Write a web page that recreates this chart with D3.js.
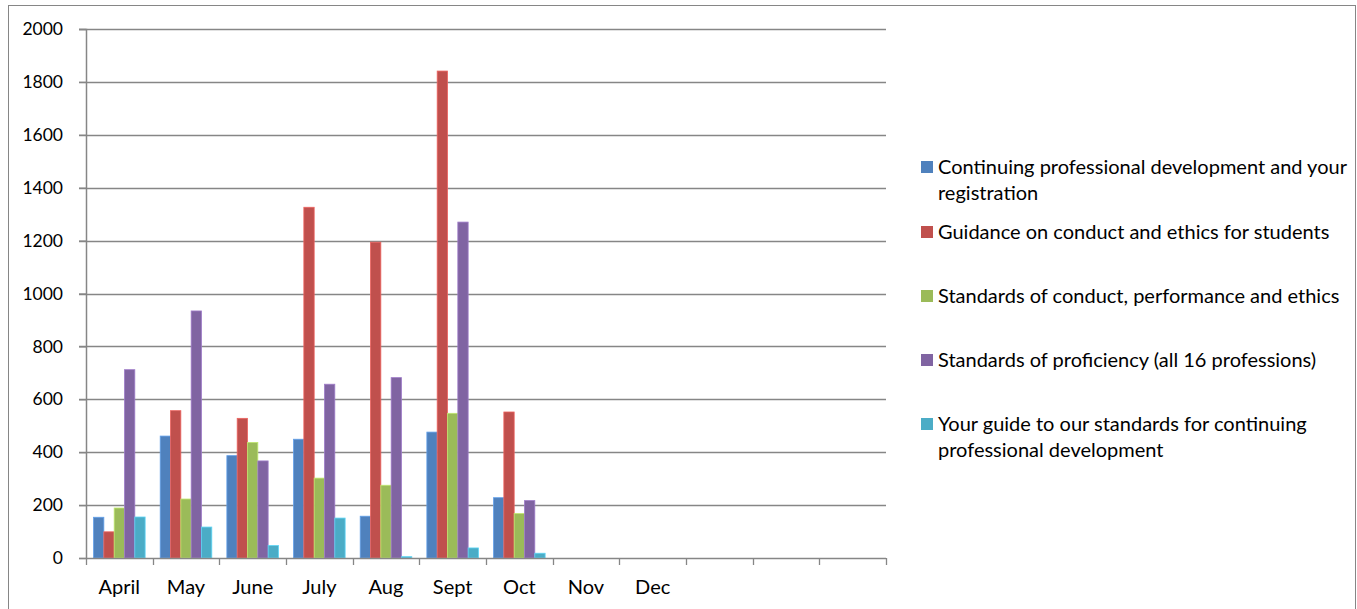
<!DOCTYPE html>
<html><head><meta charset="utf-8">
<script src="https://cdn.jsdelivr.net/npm/d3@7"></script>
<style>body{margin:0;background:#fff;} svg{display:block;font-family:Lato,"Open Sans",sans-serif;}</style>
</head><body>
<svg id="c" width="1357" height="609"></svg>
<script>
const months = ["April","May","June","July","Aug","Sept","Oct","Nov","Dec","","",""];
const seriesNames = [
  "Continuing professional development and your registration",
  "Guidance on conduct and ethics for students",
  "Standards of conduct, performance and ethics",
  "Standards of proficiency (all 16 professions)",
  "Your guide to our standards for continuing professional development"
];
const legendLines = [
  ["Continuing professional development and your","registration"],
  ["Guidance on conduct and ethics for students"],
  ["Standards of conduct, performance and ethics"],
  ["Standards of proficiency (all 16 professions)"],
  ["Your guide to our standards for continuing","professional development"]
];
const colors = ["#4F81BD","#C0504D","#9BBB59","#8064A2","#4BACC6"];
const cpdRegistration = [154,461,387,449,158,476,228,null,null,null,null,null];
const guidanceStudents = [99,557,528,1326,1194,1841,552,null,null,null,null,null];
const standardsConduct = [189,223,437,302,275,547,168,null,null,null,null,null];
const standardsProficiency = [712,934,367,657,682,1270,217,null,null,null,null,null];
const guideCpd = [155,117,47,151,5,38,18,null,null,null,null,null];
const yTicks = [0,200,400,600,800,1000,1200,1400,1600,1800,2000];
const allSeries = [cpdRegistration,guidanceStudents,standardsConduct,standardsProficiency,guideCpd];

const svg = d3.select("#c");
const L = 86, R = 886, T = 29, B = 558;
const slots = months.map((m,i)=>"s"+i);
const x0 = d3.scaleBand().domain(slots).range([L,R]).padding(0);
const bw = x0.bandwidth();
const x1 = d3.scaleBand().domain(d3.range(5)).range([bw*0.113, bw*0.887]).padding(0);
const y = d3.scaleLinear().domain([0,2000]).range([B,T]);

// outer border
svg.append("rect").attr("x",8.5).attr("y",5.5).attr("width",1347).attr("height",610)
  .attr("fill","none").attr("stroke","#868686").attr("stroke-width",1);

// gridlines
svg.append("g").selectAll("line").data(yTicks.filter(d=>d>0)).join("line")
  .attr("x1",L-7).attr("x2",R).attr("y1",d=>Math.round(y(d))+0.5).attr("y2",d=>Math.round(y(d))+0.5)
  .attr("stroke","#868686").attr("stroke-width",1.3);

// y axis
const yAxis = d3.axisLeft(y).tickValues(yTicks).tickSize(7).tickPadding(16).tickFormat(d3.format("d"));
const gy = svg.append("g").attr("transform",`translate(${L},0)`).call(yAxis);
gy.select(".domain").attr("stroke","#868686").attr("stroke-width",1.5);
gy.selectAll(".tick line").attr("stroke","#868686").attr("stroke-width",1.3);
gy.selectAll(".tick text").attr("font-size","17.5px").attr("fill","#000").attr("font-family","Lato");

// bars
const g = svg.append("g");
allSeries.forEach((s,si)=>{
  g.selectAll(null).data(s.map((v,i)=>({v,i})).filter(d=>d.v!=null)).join("rect")
    .attr("x",d=>x0(slots[d.i])+x1(si))
    .attr("width",x1.bandwidth())
    .attr("y",d=>y(d.v))
    .attr("height",d=>B-y(d.v))
    .attr("fill",colors[si])
    .attr("stroke",d3.color(colors[si]).brighter(0.6))
    .attr("stroke-width",0.8);
});

// x axis
const xAxis = d3.axisBottom(x0).tickSize(0).tickPadding(22).tickFormat((d,i)=>months[i]);
const gx = svg.append("g").attr("transform",`translate(0,${B})`).call(xAxis);
gx.select(".domain").remove();
gx.selectAll(".tick text").attr("font-size","20px").attr("fill","#000").attr("font-family","Lato");
gx.append("line").attr("x1",L).attr("x2",R).attr("y1",0.5).attr("y2",0.5).attr("stroke","#868686").attr("stroke-width",1.5);
const bounds = slots.map(s=>x0(s)).concat([R]);
gx.selectAll(".bt").data(bounds).join("line").attr("class","bt")
  .attr("x1",d=>Math.round(d)+0.5).attr("x2",d=>Math.round(d)+0.5).attr("y1",0).attr("y2",7)
  .attr("stroke","#868686").attr("stroke-width",1.3);

// legend
const legTop = [167,232,296,360,424];
const lg = svg.append("g");
legendLines.forEach((lines,i)=>{
  lg.append("rect").attr("x",921).attr("y",legTop[i]-6).attr("width",12).attr("height",12).attr("fill",colors[i]);
  lines.forEach((t,j)=>{
    lg.append("text").attr("x",938).attr("y",legTop[i]+j*26).attr("dy","0.35em")
      .attr("font-size","20px").attr("font-family","Lato").attr("fill","#000").text(t);
  });
});
</script>
</body></html>
